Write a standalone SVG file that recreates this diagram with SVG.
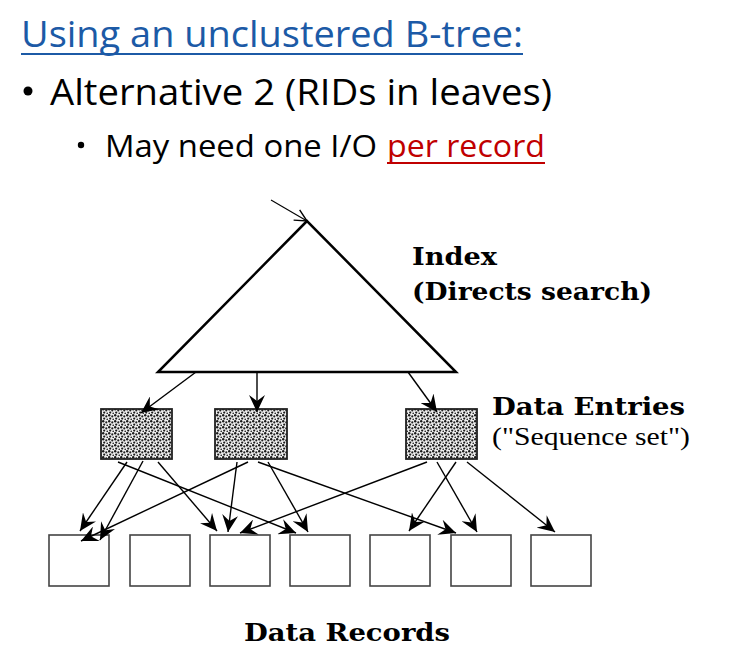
<svg xmlns="http://www.w3.org/2000/svg" width="734" height="661" viewBox="0 0 734 661">
<style>
.title{font-family:"Open Sans","Liberation Sans",sans-serif;font-size:37px;fill:#1c5aa6}
.b1{font-family:"Open Sans","Liberation Sans",sans-serif;font-size:37px;fill:#000}
.b2{font-family:"Open Sans","Liberation Sans",sans-serif;font-size:31px;fill:#000}
.red{fill:#c00000}
.lbl{font-family:"DejaVu Serif","Liberation Serif",serif;font-weight:bold;font-size:25px;fill:#000}
.lblr{font-family:"Liberation Serif","Times New Roman",serif;font-size:26px;fill:#000}
.conn{stroke:#000;stroke-width:1.4;fill:none;marker-end:url(#ah)}
.rec{fill:#fff;stroke:#444;stroke-width:1.6}
.ent{fill:url(#stip);stroke:#222;stroke-width:1.8}
</style>
<defs>
<pattern id="stip" width="6" height="6" patternUnits="userSpaceOnUse">
<rect width="6" height="6" fill="#f0f0f0"/>
<circle cx="1.2" cy="1.3" r="1.2" fill="#1a1a1a"/>
<circle cx="4.3" cy="2.4" r="1.1" fill="#222"/>
<circle cx="2.2" cy="4.6" r="1.1" fill="#1a1a1a"/>
<circle cx="5.3" cy="5.3" r="0.9" fill="#333"/>
</pattern>
<marker id="ah" markerUnits="userSpaceOnUse" markerWidth="18" markerHeight="16" viewBox="0 0 18 16" refX="17" refY="8" orient="auto">
<path d="M0,0 L17,8 L0,16 L6,8 z" fill="#000"/>
</marker>
<marker id="oh" markerUnits="userSpaceOnUse" markerWidth="14" markerHeight="14" viewBox="0 0 14 14" refX="13" refY="7" orient="auto">
<path d="M1,1 L13,7 L1,13" fill="none" stroke="#000" stroke-width="1.4"/>
</marker>
</defs>
<rect width="734" height="661" fill="#fff"/>

<g id="heading">
<text class="title" x="21" y="47" textLength="502" lengthAdjust="spacingAndGlyphs">Using an unclustered B-tree:</text>
<line x1="21" y1="54" x2="523" y2="54" stroke="#1c5aa6" stroke-width="2"/>
<circle cx="28" cy="91" r="4.5" fill="#000"/>
<text class="b1" x="50" y="105" textLength="502" lengthAdjust="spacingAndGlyphs">Alternative 2 (RIDs in leaves)</text>
<circle cx="81" cy="145" r="3.2" fill="#000"/>
<text class="b2" x="105" y="157" textLength="272" lengthAdjust="spacingAndGlyphs">May need one I/O</text>
<text class="b2 red" x="387" y="157" textLength="158" lengthAdjust="spacingAndGlyphs">per record</text>
<line x1="387" y1="163" x2="545" y2="163" stroke="#c00000" stroke-width="2"/>
</g>

<g id="index">
<polygon points="307,221 158,372 456,372" fill="#fff" stroke="#000" stroke-width="2.5" stroke-linejoin="miter"/>
<text class="lbl" x="412" y="265" textLength="85" lengthAdjust="spacingAndGlyphs">Index</text>
<text class="lbl" x="412" y="300" textLength="240" lengthAdjust="spacingAndGlyphs">(Directs search)</text>
</g>

<g id="entries">
<rect class="ent" x="101" y="409" width="71" height="50"/>
<rect class="ent" x="215" y="409" width="72" height="50"/>
<rect class="ent" x="406" y="409" width="71" height="50"/>
<text class="lbl" x="492" y="415" textLength="193" lengthAdjust="spacingAndGlyphs">Data Entries</text>
<text class="lblr" x="492" y="445" textLength="198" lengthAdjust="spacingAndGlyphs">("Sequence set")</text>
</g>

<g id="records">
<rect class="rec" x="49" y="535" width="60" height="51"/>
<rect class="rec" x="130" y="535" width="60" height="51"/>
<rect class="rec" x="210" y="535" width="60" height="51"/>
<rect class="rec" x="290" y="535" width="60" height="51"/>
<rect class="rec" x="370" y="535" width="60" height="51"/>
<rect class="rec" x="451" y="535" width="60" height="51"/>
<rect class="rec" x="531" y="535" width="60" height="51"/>
<text class="lbl" x="244" y="641" textLength="206" lengthAdjust="spacingAndGlyphs">Data Records</text>
</g>

<g id="connectors">
<line x1="271" y1="200" x2="307" y2="221" stroke="#000" stroke-width="1.1" marker-end="url(#oh)"/>
<line class="conn" x1="196" y1="372" x2="141" y2="413"/>
<line class="conn" x1="257" y1="372" x2="257" y2="412"/>
<line class="conn" x1="408" y1="372" x2="437" y2="412"/>
<line class="conn" x1="127" y1="462" x2="80" y2="531"/>
<line class="conn" x1="143" y1="461" x2="100" y2="540"/>
<line class="conn" x1="248" y1="462" x2="81" y2="541"/>
<line class="conn" x1="158" y1="462" x2="217" y2="531"/>
<line class="conn" x1="118" y1="462" x2="296" y2="533"/>
<line class="conn" x1="237" y1="462" x2="228" y2="532"/>
<line class="conn" x1="268" y1="462" x2="308" y2="532"/>
<line class="conn" x1="258" y1="462" x2="456" y2="533"/>
<line class="conn" x1="427" y1="462" x2="240" y2="533"/>
<line class="conn" x1="456" y1="462" x2="409" y2="531"/>
<line class="conn" x1="437" y1="462" x2="477" y2="532"/>
<line class="conn" x1="467" y1="462" x2="555" y2="532"/>
</g>
</svg>
